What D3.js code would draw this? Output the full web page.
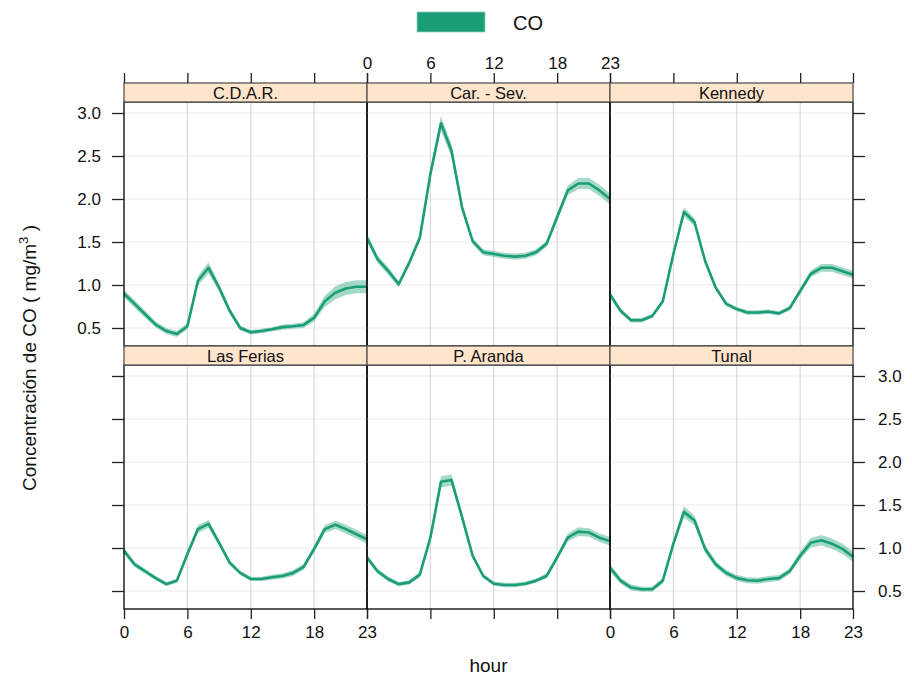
<!DOCTYPE html>
<html>
<head>
<meta charset="utf-8">
<script src="https://cdn.jsdelivr.net/npm/d3@7"></script>
<style>
  body { margin: 0; background: #fff; }
  svg { display: block; font-family: "Liberation Sans", Arial, sans-serif; }
</style>
</head>
<body>
<svg id="chart" width="912" height="677"></svg>
<script>
// ---- DATA ----
const hours = d3.range(0, 24);
const stations = ["C.D.A.R.", "Car. - Sev.", "Kennedy", "Las Ferias", "P. Aranda", "Tunal"];
const xTicks = [0, 6, 12, 18, 23];
const yTicks = [0.5, 1.0, 1.5, 2.0, 2.5, 3.0];
const seriesName = "CO";

const meanCDAR   = [0.90,0.78,0.66,0.54,0.465,0.43,0.52,1.05,1.20,0.97,0.70,0.50,0.45,0.465,0.485,0.51,0.52,0.535,0.62,0.81,0.91,0.96,0.98,0.98];
const meanCarSev = [1.55,1.30,1.165,1.01,1.26,1.55,2.29,2.88,2.56,1.90,1.51,1.38,1.36,1.34,1.33,1.34,1.38,1.48,1.79,2.10,2.18,2.18,2.10,2.00];
const meanKennedy= [0.89,0.70,0.59,0.59,0.64,0.81,1.36,1.85,1.73,1.28,0.97,0.78,0.72,0.68,0.68,0.69,0.67,0.73,0.93,1.13,1.20,1.20,1.16,1.12];
const meanFerias = [0.967,0.81,0.73,0.65,0.58,0.62,0.93,1.22,1.28,1.06,0.83,0.71,0.64,0.64,0.66,0.675,0.71,0.78,0.99,1.22,1.27,1.22,1.16,1.10];
const meanAranda = [0.89,0.73,0.64,0.58,0.60,0.69,1.12,1.77,1.79,1.36,0.91,0.675,0.585,0.57,0.57,0.585,0.62,0.675,0.89,1.12,1.19,1.18,1.12,1.08];
const meanTunal  = [0.77,0.62,0.54,0.52,0.52,0.62,1.05,1.42,1.32,0.99,0.81,0.71,0.65,0.625,0.62,0.64,0.65,0.73,0.91,1.06,1.09,1.05,0.99,0.90];

// half-width of the shaded confidence band
const ciCDAR   = [0.045,0.045,0.04,0.035,0.035,0.035,0.035,0.055,0.065,0.045,0.035,0.03,0.025,0.025,0.025,0.03,0.03,0.035,0.045,0.065,0.075,0.075,0.075,0.075];
const ciCarSev = [0.045,0.045,0.045,0.035,0.035,0.045,0.055,0.085,0.075,0.045,0.035,0.035,0.035,0.035,0.035,0.035,0.035,0.035,0.045,0.055,0.065,0.065,0.065,0.065];
const ciKennedy= [0.035,0.03,0.025,0.025,0.025,0.03,0.035,0.055,0.045,0.035,0.025,0.025,0.025,0.025,0.025,0.025,0.025,0.025,0.035,0.04,0.045,0.045,0.045,0.045];
const ciFerias = [0.035,0.03,0.03,0.025,0.025,0.025,0.035,0.045,0.045,0.035,0.03,0.025,0.025,0.025,0.03,0.03,0.035,0.035,0.04,0.045,0.05,0.05,0.05,0.05];
const ciAranda = [0.035,0.03,0.03,0.025,0.025,0.03,0.035,0.065,0.065,0.045,0.035,0.025,0.025,0.025,0.025,0.025,0.025,0.03,0.035,0.045,0.05,0.05,0.05,0.05];
const ciTunal  = [0.045,0.035,0.035,0.03,0.03,0.035,0.045,0.065,0.055,0.045,0.04,0.035,0.035,0.035,0.035,0.035,0.035,0.035,0.045,0.055,0.06,0.06,0.06,0.06];

const means = [meanCDAR, meanCarSev, meanKennedy, meanFerias, meanAranda, meanTunal];
const cis   = [ciCDAR, ciCarSev, ciKennedy, ciFerias, ciAranda, ciTunal];

// ---- LAYOUT ----
const color = "#1b9e77";
const svg = d3.select("#chart");
const left = 124, panelW = 243, panelH = 244, stripH = 19;
const rowTops = [102, 365]; // panel top (strip is above)
const x = d3.scaleLinear().domain([0, 23]).range([0, panelW]);
const y = d3.scaleLinear().domain([0.5 - 18/86, 3.0 + 11/86]).range([panelH, 0]);

const area = d3.area().x((d,i)=>x(hours[i])).y0(d=>y(d[0])).y1(d=>y(d[1]));
const line = d3.line().x((d,i)=>x(hours[i])).y(d=>y(d));

stations.forEach((name, k) => {
  const col = k % 3, row = Math.floor(k / 3);
  const px = left + col * panelW, py = rowTops[row];
  const g = svg.append("g").attr("transform", `translate(${px},${py})`);

  // grid
  g.selectAll("line.hg").data(yTicks).join("line")
    .attr("x1", 0).attr("x2", panelW).attr("y1", d=>y(d)).attr("y2", d=>y(d))
    .attr("stroke", "#ebebeb").attr("stroke-width", 1.2);
  g.selectAll("line.vg").data([6, 12, 18]).join("line")
    .attr("y1", 0).attr("y2", panelH).attr("x1", d=>x(d)).attr("x2", d=>x(d))
    .attr("stroke", "#dadada").attr("stroke-width", 1.2);

  // band + line
  const m = means[k], c = cis[k];
  g.append("path").datum(m.map((v,i)=>[v - c[i], v + c[i]]))
    .attr("d", area).attr("fill", color).attr("fill-opacity", 0.4);
  g.append("path").datum(m).attr("d", line)
    .attr("fill", "none").attr("stroke", color).attr("stroke-width", 2.6)
    .attr("stroke-linejoin", "round");

  // frame
  g.append("rect").attr("x", 0).attr("y", 0).attr("width", panelW).attr("height", panelH)
    .attr("fill", "none").attr("stroke", "#000").attr("stroke-width", 1.3);

  // strip
  const s = g.append("g").attr("transform", `translate(0,${-stripH})`);
  s.append("rect").attr("width", panelW).attr("height", stripH)
    .attr("fill", "#ffe5cc").attr("stroke", "#555").attr("stroke-width", 1.3);
  s.append("text").attr("x", panelW/2).attr("y", stripH/2 + 6)
    .attr("text-anchor", "middle").attr("font-size", 16.5).attr("fill", "#111").text(name);

  // axes
  const tickLen = 10;
  if (row === 0) {
    const ax = d3.axisTop(x).tickValues(xTicks).tickSize(tickLen).tickSizeOuter(0).tickPadding(4);
    const ag = svg.append("g").attr("transform", `translate(${px},${py - stripH})`).call(ax);
    if (col !== 1) ag.selectAll("text").remove();
  } else {
    const ax = d3.axisBottom(x).tickValues(xTicks).tickSize(tickLen).tickSizeOuter(0).tickPadding(7);
    const ag = svg.append("g").attr("transform", `translate(${px},${py + panelH})`).call(ax);
    if (col === 1) ag.selectAll("text").remove();
  }
  if (col === 0) {
    const ay = d3.axisLeft(y).tickValues(yTicks).tickFormat(d3.format(".1f")).tickSize(12).tickSizeOuter(0).tickPadding(11);
    const ag = svg.append("g").attr("transform", `translate(${px},${py})`).call(ay);
    if (row === 1) ag.selectAll("text").remove();
  }
  if (col === 2) {
    const ay = d3.axisRight(y).tickValues(yTicks).tickFormat(d3.format(".1f")).tickSize(12).tickSizeOuter(0).tickPadding(13);
    const ag = svg.append("g").attr("transform", `translate(${px + panelW},${py})`).call(ay);
    if (row === 0) ag.selectAll("text").remove();
  }
});

svg.selectAll(".domain").remove();
svg.selectAll(".tick line").attr("stroke", "#222").attr("stroke-width", 1.3);
svg.selectAll(".tick text").attr("font-size", 17).attr("fill", "#111")
  .attr("font-family", "Liberation Sans, Arial, sans-serif");

// legend
svg.append("rect").attr("x", 417).attr("y", 12).attr("width", 68).attr("height", 20)
  .attr("fill", color).attr("stroke", "#8fd3bd").attr("stroke-width", 0.8);
svg.append("text").attr("x", 513).attr("y", 30).attr("font-size", 20).attr("fill", "#111").text(seriesName);

// axis titles
svg.append("text").attr("x", 488.5).attr("y", 672).attr("text-anchor", "middle")
  .attr("font-size", 19).attr("fill", "#111").text("hour");
const yl = svg.append("text").attr("transform", "translate(36,358) rotate(-90)")
  .attr("text-anchor", "middle").attr("font-size", 19).attr("fill", "#111");
yl.append("tspan").text("Concentración de CO ( mg/m");
yl.append("tspan").attr("font-size", 13).attr("dy", -8).text("3");
yl.append("tspan").attr("dy", 8).text(" )");
</script>
</body>
</html>
